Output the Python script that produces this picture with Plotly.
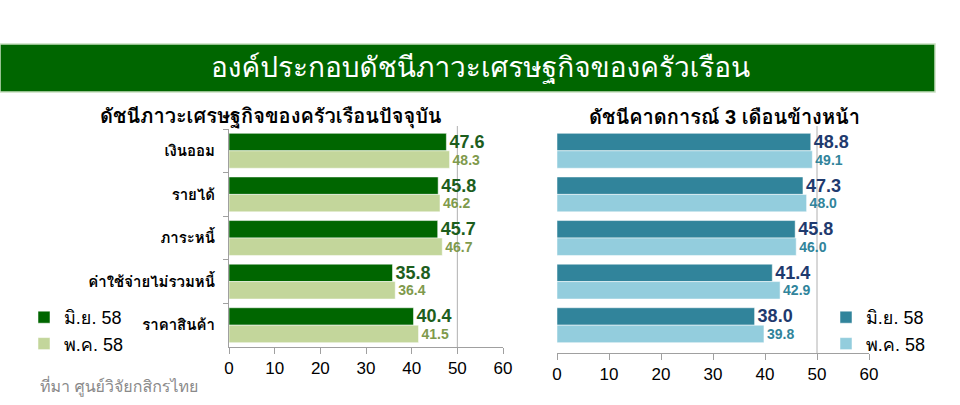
import plotly.graph_objects as go

W, H = 960, 405

categories = ["เงินออม", "รายได้", "ภาระหนี้", "ค่าใช้จ่ายไม่รวมหนี้", "ราคาสินค้า"]
series_names = ["มิ.ย. 58", "พ.ค. 58"]
current_jun = [47.6, 45.8, 45.7, 35.8, 40.4]
current_may = [48.3, 46.2, 46.7, 36.4, 41.5]
expect_jun = [48.8, 47.3, 45.8, 41.4, 38.0]
expect_may = [49.1, 48.0, 46.0, 42.9, 39.8]
x_ticks = [0, 10, 20, 30, 40, 50, 60]

main_title = "องค์ประกอบดัชนีภาวะเศรษฐกิจของครัวเรือน"
left_title = "ดัชนีภาวะเศรษฐกิจของครัวเรือนปัจจุบัน"
right_title = "ดัชนีคาดการณ์ 3 เดือนข้างหน้า"
source_text = "ที่มา ศูนย์วิจัยกสิกรไทย"

FONT = "Liberation Sans, Loma, Noto Sans Thai Looped, sans-serif"
NARROW = "Liberation Sans Narrow, Arial Narrow, Liberation Sans, sans-serif"


def px_x(p):
    return p / W


def px_y(p):
    return 1 - p / H


fig = go.Figure()


def add_bar(vals, name, color, xa, ya, tcolor, tsize, legend):
    fig.add_trace(go.Bar(
        y=categories, x=vals, name=name, orientation="h",
        marker=dict(color=color, line=dict(color="white", width=0.5)),
        text=[f"{v:.1f}" for v in vals], textposition="outside",
        textfont=dict(color=tcolor, size=tsize, family=NARROW, weight="bold"),
        constraintext="none", cliponaxis=False, textangle=0,
        xaxis=xa, yaxis=ya, legend=legend, hoverinfo="x+y",
    ))


add_bar(current_jun, series_names[0], "#006600", "x", "y", "#1d5e1d", 18, "legend")
add_bar(current_may, series_names[1], "#c3d69b", "x", "y", "#7f9a4c", 14, "legend")
add_bar(expect_jun, series_names[0], "#31849b", "x2", "y2", "#1f3a6e", 18, "legend2")
add_bar(expect_may, series_names[1], "#93cddd", "x2", "y2", "#31849b", 14, "legend2")

ydom = [px_y(347), px_y(129)]
axis_common = dict(range=[0, 60], tickvals=x_ticks, ticks="outside", ticklen=6,
                   tickcolor="#a0a0a0", showline=True, linecolor="#a0a0a0",
                   showgrid=False, zeroline=False, automargin=False,
                   tickfont=dict(size=17, color="black", family=FONT))

fig.update_layout(
    width=W, height=H,
    margin=dict(l=0, r=0, t=0, b=0, pad=0, autoexpand=False),
    paper_bgcolor="white", plot_bgcolor="white",
    barmode="group", bargap=0.2, bargroupgap=0,
    font=dict(family=FONT, color="black"),
    xaxis=dict(domain=[px_x(229), px_x(503)], anchor="y", **axis_common),
    yaxis=dict(domain=ydom, anchor="x", type="category", autorange="reversed",
               showline=True, linecolor="#a0a0a0", ticks="outside",
               tickson="boundaries", ticklen=5, tickcolor="#a0a0a0",
               ticklabelstandoff=10, automargin=False,
               tickfont=dict(size=15, color="black", family=FONT, weight="bold")),
    xaxis2=dict(domain=[px_x(557), px_x(869)], anchor="free", position=px_y(353),
                **axis_common),
    yaxis2=dict(domain=ydom, anchor="x2", type="category", autorange="reversed",
                showline=False, showticklabels=False, ticks="", automargin=False),
    legend=dict(x=px_x(24), y=px_y(299), xanchor="left", yanchor="top",
                bgcolor="rgba(0,0,0,0)", itemwidth=30,
                font=dict(size=18, color="black", family=FONT)),
    legend2=dict(x=px_x(826), y=px_y(299), xanchor="left", yanchor="top",
                 bgcolor="rgba(0,0,0,0)", itemwidth=30,
                 font=dict(size=18, color="black", family=FONT)),
    showlegend=True,
)

shapes = [
    dict(type="rect", xref="paper", yref="paper", x0=0, x1=px_x(935),
         y0=px_y(92), y1=px_y(44), fillcolor="#006600",
         line=dict(color="#c8e0c0", width=1.5), layer="below"),
    dict(type="line", xref="x", yref="paper", x0=50, x1=50, y0=px_y(347), y1=px_y(126),
         line=dict(color="#b0b0b0", width=1), layer="below"),
    dict(type="line", xref="x2", yref="paper", x0=50, x1=50, y0=px_y(353), y1=px_y(126),
         line=dict(color="#b0b0b0", width=1), layer="below"),
]
fig.update_layout(shapes=shapes)

annotations = [
    dict(text=main_title, x=px_x(480), y=px_y(68), xref="paper", yref="paper",
         xanchor="center", yanchor="middle",
         showarrow=False, font=dict(size=28, color="white", family=FONT)),
    dict(text=left_title, x=px_x(271), y=px_y(117), xref="paper", yref="paper",
         xanchor="center", yanchor="middle",
         showarrow=False, font=dict(size=20, color="black", family=FONT, weight="bold")),
    dict(text=right_title, x=px_x(724), y=px_y(117), xref="paper", yref="paper",
         xanchor="center", yanchor="middle",
         showarrow=False, font=dict(size=20, color="black", family=FONT, weight="bold")),
    dict(text=source_text, x=px_x(38), y=px_y(386), xref="paper", yref="paper",
         xanchor="left", yanchor="middle",
         showarrow=False, font=dict(size=16, color="#8a8a8a", family=FONT)),
]
fig.update_layout(annotations=annotations)

fig.write_html("out.html", config={"displayModeBar": False},
               post_script="document.body.style.margin='0';")
